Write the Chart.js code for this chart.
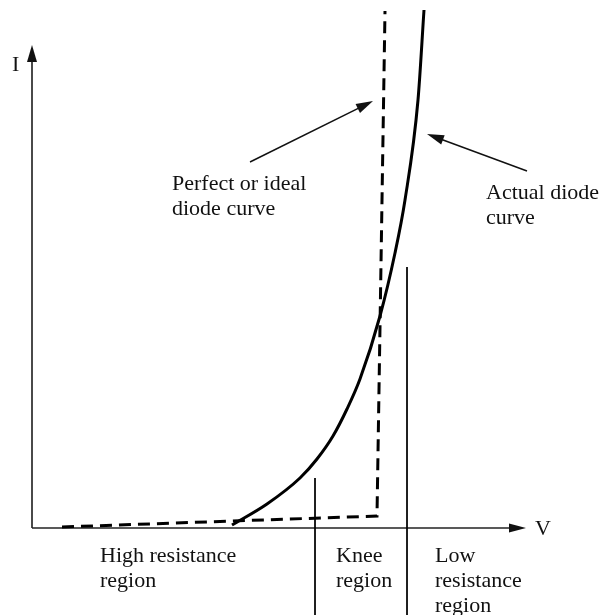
<!DOCTYPE html>
<html>
<head>
<meta charset="utf-8">
<script src="https://cdn.jsdelivr.net/npm/chart.js@4/dist/chart.umd.min.js"></script>
<style>
  html, body { margin: 0; padding: 0; background: #fff; }
  canvas { display: block; }
</style>
</head>
<body>
<canvas id="diode" width="602" height="615"></canvas>
<script>
// diode I-V characteristic: ideal (dashed) vs actual (solid)
var V_IDEAL = [0.06, 0.69, 0.706];
var I_IDEAL = [0.1, 1.2, 51.7];

var V_ACTUAL = [0.40, 0.47, 0.536, 0.57, 0.602, 0.63, 0.656, 0.696, 0.726, 0.746, 0.772, 0.784];
var I_ACTUAL = [0.3, 2.4, 5.0, 6.9, 9.2, 11.9, 14.9, 21.2, 27.5, 32.8, 42.8, 51.8];

// region boundaries (V) and how high each marker line reaches (I)
var BOUNDARY_V = [0.566, 0.75];
var BOUNDARY_TOP = [5.0, 26.1];

var SERIF = '22px "Liberation Serif", "Times New Roman", serif';

function pts(xs, ys) {
  return xs.map(function (x, i) { return { x: x, y: ys[i] }; });
}

// callouts and captions, anchored in V/I units
var labels = [
  { lines: ['I'], v: -0.04, i: 45.7 },
  { lines: ['V'], v: 1.006, i: -0.7 },
  { lines: ['Perfect or ideal', 'diode curve'], v: 0.28, i: 33.8 },
  { lines: ['Actual diode', 'curve'], v: 0.908, i: 32.9 },
  { lines: ['High resistance', 'region'], v: 0.136, i: -3.4 },
  { lines: ['Knee', 'region'], v: 0.608, i: -3.4 },
  { lines: ['Low', 'resistance', 'region'], v: 0.806, i: -3.4 }
];
var pointers = [
  { from: [0.436, 36.6], to: [0.682, 42.7] },
  { from: [0.99, 35.7], to: [0.79, 39.4] }
];

function arrowHead(ctx, x0, y0, x1, y1, len, half) {
  var a = Math.atan2(y1 - y0, x1 - x0);
  ctx.beginPath();
  ctx.moveTo(x1, y1);
  ctx.lineTo(x1 - len * Math.cos(a) + half * Math.sin(a), y1 - len * Math.sin(a) - half * Math.cos(a));
  ctx.lineTo(x1 - len * Math.cos(a) - half * Math.sin(a), y1 - len * Math.sin(a) + half * Math.cos(a));
  ctx.closePath();
  ctx.fill();
}

var decor = {
  id: 'diodeDecor',
  beforeDatasetsDraw: function (chart) {
    var ctx = chart.ctx, xs = chart.scales.x, ys = chart.scales.y;
    var x0 = xs.getPixelForValue(0), y0 = ys.getPixelForValue(0);
    ctx.save();
    // I axis
    ctx.strokeStyle = '#4a4a4a';
    ctx.fillStyle = '#111';
    ctx.lineWidth = 2;
    var yTop = ys.getPixelForValue(48.3);
    ctx.beginPath();
    ctx.moveTo(x0, y0);
    ctx.lineTo(x0, yTop + 10);
    ctx.stroke();
    arrowHead(ctx, x0, y0, x0, yTop, 17, 5);
    // V axis
    ctx.strokeStyle = '#222';
    ctx.lineWidth = 1.5;
    var xEnd = xs.getPixelForValue(0.988);
    ctx.beginPath();
    ctx.moveTo(x0, y0);
    ctx.lineTo(xEnd - 10, y0);
    ctx.stroke();
    arrowHead(ctx, x0, y0, xEnd, y0, 17, 4.5);
    ctx.restore();
  },
  afterDatasetsDraw: function (chart) {
    var ctx = chart.ctx, xs = chart.scales.x, ys = chart.scales.y;
    ctx.save();
    ctx.strokeStyle = '#111';
    ctx.fillStyle = '#111';
    ctx.lineWidth = 1.5;
    pointers.forEach(function (p) {
      var ax = xs.getPixelForValue(p.from[0]), ay = ys.getPixelForValue(p.from[1]);
      var bx = xs.getPixelForValue(p.to[0]), by = ys.getPixelForValue(p.to[1]);
      ctx.beginPath();
      ctx.moveTo(ax, ay);
      ctx.lineTo(bx + (ax - bx) * 0.1, by + (ay - by) * 0.1);
      ctx.stroke();
      arrowHead(ctx, ax, ay, bx, by, 17, 5);
    });
    ctx.font = SERIF;
    ctx.textAlign = 'left';
    ctx.textBaseline = 'alphabetic';
    labels.forEach(function (l) {
      var px = xs.getPixelForValue(l.v), py = ys.getPixelForValue(l.i);
      l.lines.forEach(function (t, k) { ctx.fillText(t, px, py + k * 25); });
    });
    ctx.restore();
  }
};

var boundaries = BOUNDARY_V.map(function (v, k) {
  return {
    data: [{ x: v, y: BOUNDARY_TOP[k] }, { x: v, y: -8.7 }],
    borderColor: '#000', borderWidth: 1, pointRadius: 0, showLine: true
  };
});

new Chart(document.getElementById('diode'), {
  type: 'scatter',
  data: {
    datasets: [
      {
        label: 'Ideal',
        data: pts(V_IDEAL, I_IDEAL),
        showLine: true, borderColor: '#000', borderWidth: 3,
        borderDash: [12, 7], pointRadius: 0, tension: 0
      },
      {
        label: 'Actual',
        data: pts(V_ACTUAL, I_ACTUAL),
        showLine: true, borderColor: '#000', borderWidth: 3,
        pointRadius: 0, cubicInterpolationMode: 'monotone'
      }
    ].concat(boundaries)
  },
  options: {
    responsive: false,
    animation: false,
    devicePixelRatio: 1,
    layout: { padding: 0 },
    plugins: { legend: { display: false }, tooltip: { enabled: false } },
    scales: {
      x: { type: 'linear', min: -0.064, max: 1.14, display: false },
      y: { type: 'linear', min: -8.7, max: 52.8, display: false }
    }
  },
  plugins: [decor]
});
</script>
</body>
</html>
